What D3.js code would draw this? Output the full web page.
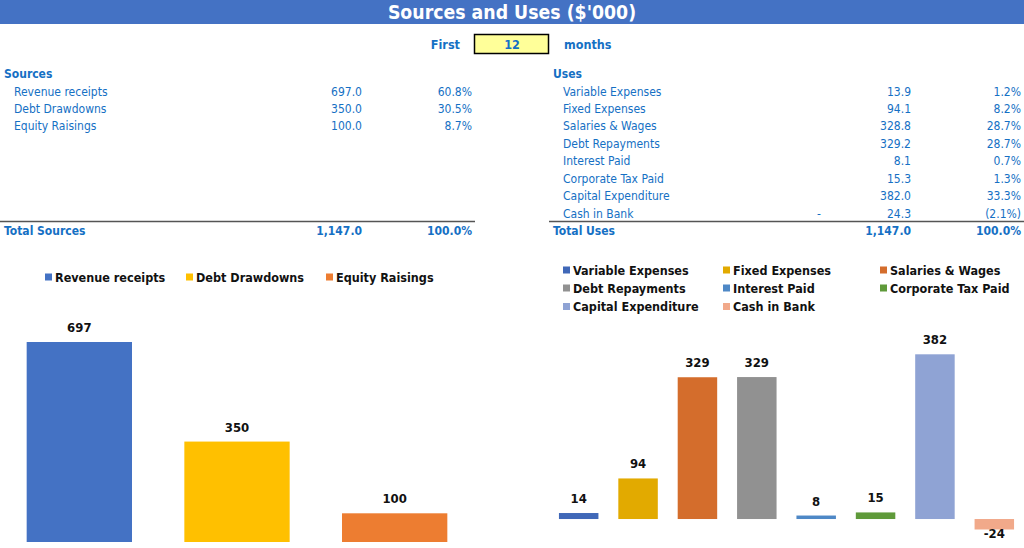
<!DOCTYPE html>
<html><head><meta charset="utf-8">
<script src="https://cdn.jsdelivr.net/npm/d3@7"></script>
<style>
body{margin:0;background:#fff;overflow:hidden;}
svg text{font-family:"DejaVu Sans Condensed","DejaVu Sans",sans-serif;}
</style></head><body>
<svg id="c" width="1024" height="548"></svg>
<script>
const titleText = "Sources and Uses ($'000)";
const periodLabels = ["First", "12", "months"];
const sourceCategories = ["Revenue receipts","Debt Drawdowns","Equity Raisings"];
const sourceValues = [697.0, 350.0, 100.0];
const sourcePercents = [60.8, 30.5, 8.7];
const sourceColors = ["#4472C4","#FFC000","#ED7D31"];
const useCategories = ["Variable Expenses","Fixed Expenses","Salaries & Wages","Debt Repayments","Interest Paid","Corporate Tax Paid","Capital Expenditure","Cash in Bank"];
const useValues = [13.9, 94.1, 328.8, 329.2, 8.1, 15.3, 382.0, -24.3];
const usePercents = [1.2, 8.2, 28.7, 28.7, 0.7, 1.3, 33.3, -2.1];
const useColors = ["#4068B8","#E2AA00","#D46D2C","#919191","#4E88C6","#5F9A3A","#8FA3D4","#F1A98A"];
const totalLabels = ["Total Sources","Total Uses"];
const totalValues = [1147.0, 1147.0];
const totalPercents = [100.0, 100.0];

const svg = d3.select("#c");
const blue = "#1570C4";
const fmtV = d3.format(",.1f");
const fmtP = p => p < 0 ? "(" + Math.abs(p).toFixed(1) + "%)" : p.toFixed(1) + "%";

// Title bar
svg.append("rect").attr("x",0).attr("y",0).attr("width",1024).attr("height",24).attr("fill","#4472C4");
svg.append("text").attr("x",512).attr("y",19).attr("text-anchor","middle")
  .attr("fill","#fff").attr("font-weight","bold").attr("font-size",19.3).text(titleText);

// period selector
svg.append("text").attr("x",460).attr("y",49).attr("text-anchor","end").attr("fill",blue)
  .attr("font-weight","bold").attr("font-size",12.5).text(periodLabels[0]);
svg.append("rect").attr("x",474.5).attr("y",34.5).attr("width",74).attr("height",19)
  .attr("fill","#FFFF99").attr("stroke","#000").attr("stroke-width",1.5);
svg.append("text").attr("x",512).attr("y",49).attr("text-anchor","middle").attr("fill",blue)
  .attr("font-size",12.5).attr("font-weight","bold").text(periodLabels[1]);
svg.append("text").attr("x",564).attr("y",49).attr("fill",blue)
  .attr("font-weight","bold").attr("font-size",12.5).text(periodLabels[2]);

// tables
function table(x0, header, cats, vals, pcts, valRight, pctRight, lineX0, lineX1, totalLabel, totalVal, totalPct){
  const g = svg.append("g");
  g.append("text").attr("x",x0).attr("y",78).attr("fill",blue).attr("font-weight","bold")
    .attr("font-size",12).text(header);
  const rowY = i => 95.5 + i*17.45;
  cats.forEach((c,i)=>{
    g.append("text").attr("x",x0+10).attr("y",rowY(i)).attr("fill",blue).attr("font-size",12).text(c);
    if (vals[i] < 0) g.append("text").attr("x",valRight-94).attr("y",rowY(i)).attr("fill",blue)
      .attr("font-size",12).text("-");
    g.append("text").attr("x",valRight).attr("y",rowY(i)).attr("text-anchor","end").attr("fill",blue)
      .attr("font-size",12).text(fmtV(Math.abs(vals[i])));
    g.append("text").attr("x",pctRight).attr("y",rowY(i)).attr("text-anchor","end").attr("fill",blue)
      .attr("font-size",12).text(fmtP(pcts[i]));
  });
  g.append("line").attr("x1",lineX0).attr("x2",lineX1).attr("y1",221.5).attr("y2",221.5)
    .attr("stroke","#555").attr("stroke-width",1.5);
  g.append("text").attr("x",x0).attr("y",235).attr("fill",blue).attr("font-weight","bold")
    .attr("font-size",12).text(totalLabel);
  g.append("text").attr("x",valRight).attr("y",235).attr("text-anchor","end").attr("fill",blue)
    .attr("font-weight","bold").attr("font-size",12).text(fmtV(totalVal));
  g.append("text").attr("x",pctRight).attr("y",235).attr("text-anchor","end").attr("fill",blue)
    .attr("font-weight","bold").attr("font-size",12).text(totalPct.toFixed(1)+"%");
}
table(4, "Sources", sourceCategories, sourceValues, sourcePercents, 362, 472, 0, 475,
      totalLabels[0], totalValues[0], totalPercents[0]);
table(553, "Uses", useCategories, useValues, usePercents, 911, 1021, 549, 1024,
      totalLabels[1], totalValues[1], totalPercents[1]);

// legends
function legend(items, colors, positions){
  items.forEach((c,i)=>{
    const [x,y] = positions[i];
    svg.append("rect").attr("x",x).attr("y",y-3.5).attr("width",7).attr("height",7).attr("fill",colors[i]);
    svg.append("text").attr("x",x+10).attr("y",y+4.5).attr("font-weight","bold").attr("font-size",12.5)
      .attr("fill","#111").text(c);
  });
}
legend(sourceCategories, sourceColors, [[45,277],[186,277],[326,277]]);
const ucols=[563,723,880], urows=[270,288,306.5];
legend(useCategories, useColors, useCategories.map((c,i)=>[ucols[i%3], urows[Math.floor(i/3)]]));

// Sources bar chart
const xs = d3.scaleBand().domain(sourceCategories).range([0.5,473.5]).paddingInner(0.332).paddingOuter(0.166);
const ys = d3.scaleLinear().domain([0,697]).range([542,342]);
svg.append("g").selectAll("rect").data(sourceValues).join("rect")
  .attr("x",(d,i)=>xs(sourceCategories[i])).attr("width",xs.bandwidth())
  .attr("y",d=>ys(Math.max(0,d))).attr("height",d=>Math.abs(ys(d)-ys(0)))
  .attr("fill",(d,i)=>sourceColors[i]);
svg.append("g").selectAll("text").data(sourceValues).join("text")
  .attr("x",(d,i)=>xs(sourceCategories[i])+xs.bandwidth()/2)
  .attr("y",d=>ys(d)-10).attr("text-anchor","middle").attr("font-weight","bold").attr("font-size",13)
  .attr("fill","#111").text(d=>d3.format(".0f")(d));

// Uses bar chart
const xu = d3.scaleBand().domain(useCategories).range([549,1024]).paddingInner(0.335).paddingOuter(0.1675);
const yu = d3.scaleLinear().domain([-24.3,382]).range([529.5,354.3]);
svg.append("g").selectAll("rect").data(useValues).join("rect")
  .attr("x",(d,i)=>xu(useCategories[i])).attr("width",xu.bandwidth())
  .attr("y",d=>yu(Math.max(0,d))).attr("height",d=>Math.abs(yu(d)-yu(0)))
  .attr("fill",(d,i)=>useColors[i]);
svg.append("g").selectAll("text").data(useValues).join("text")
  .attr("x",(d,i)=>xu(useCategories[i])+xu.bandwidth()/2)
  .attr("y",d=>d>=0 ? yu(d)-10 : yu(d)+8).attr("text-anchor","middle").attr("font-weight","bold").attr("font-size",13)
  .attr("fill","#111").text(d=>d3.format(".0f")(d).replace("−","-"));
</script></body></html>
